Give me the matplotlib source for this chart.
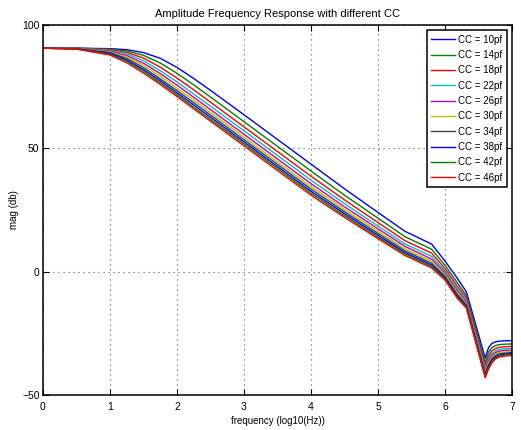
import numpy as np
import matplotlib
matplotlib.use("Agg")
import matplotlib.pyplot as plt

# frequency points (log10 Hz)
freq = [0, 0.5, 1.0, 1.25, 1.5, 1.75, 2.0, 2.25, 2.5, 3.0, 3.5, 4.0, 4.5, 5.0, 5.4,
        5.8, 6.0, 6.18, 6.32, 6.45, 6.6, 6.65, 6.7, 6.75, 6.8, 6.9, 7.0]

# magnitude (db) for each compensation cap
cc10 = [90.6, 90.6, 90.4, 90.0, 88.8, 86.5, 82.8, 78.3, 73.5, 63.6, 53.6, 43.6, 33.6, 24.0, 16.4,
        11.2, 4.3, -2.5, -8.2, -20.6, -35.0, -30.8, -29.1, -28.5, -28.2, -28.0, -28.0]
cc14 = [90.6, 90.6, 90.2, 89.5, 87.7, 84.6, 80.4, 75.7, 70.8, 60.8, 50.8, 40.8, 31.0, 21.7, 14.2,
        9.1, 2.6, -4.3, -9.7, -22.2, -36.8, -32.7, -30.8, -30.0, -29.6, -29.4, -29.3]
cc18 = [90.6, 90.5, 90.0, 88.9, 86.6, 82.9, 78.5, 73.7, 68.7, 58.7, 48.7, 38.7, 29.1, 19.9, 12.6,
        7.5, 1.3, -5.7, -10.7, -23.4, -38.1, -34.2, -32.1, -31.2, -30.7, -30.4, -30.3]
cc22 = [90.6, 90.5, 89.7, 88.3, 85.5, 81.5, 76.9, 72.0, 67.1, 57.1, 47.1, 37.1, 27.6, 18.5, 11.3,
        6.2, 0.3, -6.7, -11.6, -24.4, -39.1, -35.3, -33.2, -32.1, -31.6, -31.2, -31.1]
cc26 = [90.6, 90.5, 89.4, 87.6, 84.5, 80.3, 75.6, 70.7, 65.7, 55.7, 45.7, 35.7, 26.3, 17.4, 10.3,
        5.1, -0.5, -7.6, -12.3, -25.2, -40.0, -36.2, -34.0, -32.9, -32.3, -31.9, -31.8]
cc30 = [90.6, 90.4, 89.1, 87.0, 83.6, 79.2, 74.4, 69.5, 64.5, 54.5, 44.5, 34.5, 25.2, 16.4, 9.3,
        4.2, -1.2, -8.4, -13.0, -25.9, -40.8, -37.1, -34.8, -33.5, -32.9, -32.5, -32.3]
cc34 = [90.6, 90.4, 88.8, 86.4, 82.7, 78.2, 73.4, 68.5, 63.5, 53.5, 43.5, 33.5, 24.3, 15.5, 8.5,
        3.4, -1.9, -9.1, -13.5, -26.5, -41.4, -37.8, -35.4, -34.1, -33.4, -33.0, -32.8]
cc38 = [90.6, 90.3, 88.5, 85.8, 81.9, 77.4, 72.5, 67.6, 62.6, 52.6, 42.6, 32.6, 23.5, 14.7, 7.8,
        2.7, -2.4, -9.7, -14.0, -27.0, -42.0, -38.4, -36.0, -34.6, -33.9, -33.4, -33.2]
cc42 = [90.6, 90.3, 88.1, 85.3, 81.2, 76.6, 71.7, 66.7, 61.7, 51.8, 41.8, 31.8, 22.7, 14.0, 7.2,
        2.1, -2.9, -10.2, -14.4, -27.5, -42.5, -39.0, -36.5, -35.1, -34.3, -33.8, -33.6]
cc46 = [90.6, 90.2, 87.8, 84.7, 80.5, 75.9, 71.0, 66.0, 61.0, 51.0, 41.0, 31.0, 22.0, 13.4, 6.6,
        1.5, -3.4, -10.7, -14.8, -27.9, -43.0, -39.5, -37.0, -35.5, -34.7, -34.2, -34.0]

series = [cc10, cc14, cc18, cc22, cc26, cc30, cc34, cc38, cc42, cc46]
labels = ["CC = 10pf", "CC = 14pf", "CC = 18pf", "CC = 22pf", "CC = 26pf",
          "CC = 30pf", "CC = 34pf", "CC = 38pf", "CC = 42pf", "CC = 46pf"]
# matlab default line colours b g r c m y k, then again
colors = ["#0000ff", "#008000", "#ff0000", "#00bfbf", "#bf00bf",
          "#bfbf00", "#404040", "#0000ff", "#008000", "#ff0000"]

plt.rcParams["font.family"] = ["Liberation Sans", "DejaVu Sans"]

fig = plt.figure(figsize=(5.21, 4.30), dpi=100)
ax = fig.add_axes([0.0825, 0.0814, 0.9002, 0.8605])

for y, lab, c in zip(series, labels, colors):
    ax.plot(freq, y, color=c, lw=1.0, label=lab)

ax.set_xlim(0, 7)
ax.set_ylim(-50, 100)
ax.set_xticks(range(0, 8))
ax.set_yticks([-50, 0, 50, 100])
ax.grid(True, linestyle=(0, (1, 3.5)), color="0.35", lw=0.8)
ax.tick_params(direction="in", top=True, right=True, length=4, width=0.8, labelsize=7.5)
ax.tick_params(axis="x", pad=5)
ax.tick_params(axis="y", pad=2.5)
for s in ax.spines.values():
    s.set_linewidth(1.1)

ax.set_title("Amplitude Frequency Response with different CC", fontsize=8, pad=6)
ax.set_xlabel("frequency (log10(Hz))", fontsize=7, labelpad=3)
ax.set_ylabel("mag (db)", fontsize=7, labelpad=2)

leg = ax.legend(loc="upper right", fontsize=7, handlelength=2.4, labelspacing=0.55,
                borderaxespad=0.55, fancybox=False, framealpha=1, handletextpad=0.35,
                borderpad=0.45)
leg.get_frame().set_edgecolor("black")
leg.get_frame().set_linewidth(1.1)

fig.savefig("out.png", dpi=100)
